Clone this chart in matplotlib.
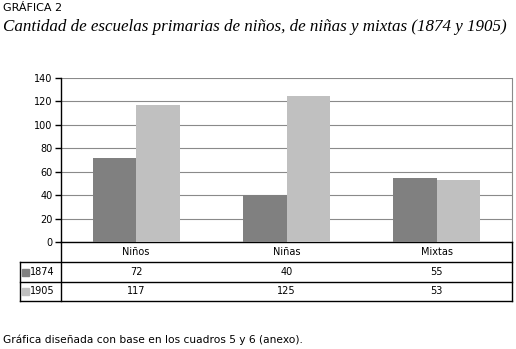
import matplotlib
matplotlib.use("Agg")
import matplotlib.pyplot as plt
from matplotlib.patches import Rectangle
from matplotlib.lines import Line2D
import numpy as np

categories = ["Niños", "Niñas", "Mixtas"]
series_names = ["1874", "1905"]
values_1874 = [72, 40, 55]
values_1905 = [117, 125, 53]
series_colors = ["#808080", "#c0c0c0"]
yticks = [0, 20, 40, 60, 80, 100, 120, 140]

W, H = 516, 349
fig = plt.figure(figsize=(W / 100, H / 100), dpi=100)
fig.patch.set_facecolor("white")

def fx(px):
    return px / W

def fy(py):
    return 1 - py / H

ax_left, ax_right, ax_top, ax_bottom = 61, 512, 78, 242
ax = fig.add_axes([fx(ax_left), fy(ax_bottom), fx(ax_right - ax_left), (ax_bottom - ax_top) / H])

x = np.arange(len(categories))
bw = 0.29
ax.bar(x - bw / 2, values_1874, width=bw, color=series_colors[0], zorder=3)
ax.bar(x + bw / 2, values_1905, width=bw, color=series_colors[1], zorder=3)
ax.set_xlim(-0.5, len(categories) - 0.5)
ax.set_ylim(0, 140)
ax.set_yticks(yticks)
ax.set_yticklabels([str(t) for t in yticks], fontsize=7, family="DejaVu Sans")
ax.tick_params(axis="y", length=4, width=1, color="black", pad=2)
ax.set_xticks([])
ax.yaxis.grid(True, color="#8a8a8a", linewidth=0.8, zorder=0)
ax.spines["top"].set_visible(False)
ax.spines["right"].set_color("#8a8a8a")
ax.spines["left"].set_color("black")
ax.spines["bottom"].set_color("black")
ax.spines["left"].set_linewidth(1)
ax.spines["bottom"].set_linewidth(1)

# Data table beneath the axes
tbl_left = 20
row_y = [242, 262, 282, 301]
lw = 1.0
def hline(y, x0, x1):
    fig.add_artist(Line2D([fx(x0), fx(x1)], [fy(y), fy(y)], color="black", lw=lw))
def vline(xp, y0, y1):
    fig.add_artist(Line2D([fx(xp), fx(xp)], [fy(y0), fy(y1)], color="black", lw=lw))

for y in row_y[1:]:
    hline(y, tbl_left, ax_right)
vline(ax_left, row_y[0], row_y[-1])
vline(ax_right, row_y[0], row_y[-1])
vline(tbl_left, row_y[1], row_y[-1])

cat_w = (ax_right - ax_left) / len(categories)
def cat_center(i):
    return ax_left + cat_w * (i + 0.5)

for i, c in enumerate(categories):
    fig.text(fx(cat_center(i)), fy((row_y[0] + row_y[1]) / 2), c, ha="center", va="center",
             fontsize=7, family="DejaVu Sans")
for r, (name, vals, col) in enumerate(zip(series_names, [values_1874, values_1905], series_colors)):
    yc = (row_y[r + 1] + row_y[r + 2]) / 2
    fig.add_artist(Rectangle((fx(22), fy(yc + 3.5)), fx(7), 7 / H, color=col))
    fig.text(fx(30), fy(yc), name, ha="left", va="center", fontsize=7, family="DejaVu Sans")
    for i, v in enumerate(vals):
        fig.text(fx(cat_center(i)), fy(yc), str(v), ha="center", va="center",
                 fontsize=7, family="DejaVu Sans")

# Titles
fig.text(fx(3), fy(8), "GRÁFICA 2", ha="left", va="center", fontsize=8,
         family="DejaVu Sans")
fig.text(fx(3), fy(27), "Cantidad de escuelas primarias de niños, de niñas y mixtas (1874 y 1905)",
         ha="left", va="center", fontsize=12.25, family="Liberation Serif", style="italic")
fig.text(fx(3), fy(340), "Gráfica diseñada con base en los cuadros 5 y 6 (anexo).",
         ha="left", va="center", fontsize=7.7, family="DejaVu Sans")

fig.savefig("out.png", dpi=100)
